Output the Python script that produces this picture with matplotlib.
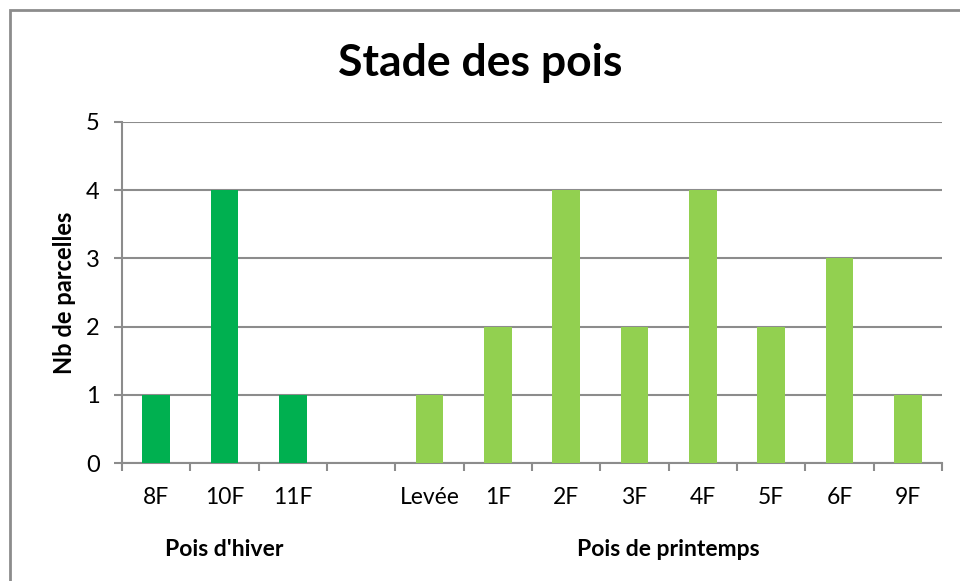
import numpy as np
import matplotlib.pyplot as plt
from matplotlib.patches import Rectangle
from matplotlib.transforms import blended_transform_factory

plt.rcParams['font.family'] = ['Lato', 'DejaVu Sans']

# données
categories = ['8F', '10F', '11F', '', 'Levée', '1F', '2F', '3F', '4F', '5F', '6F', '9F']
valeurs = [1, 4, 1, 0, 1, 2, 4, 2, 4, 2, 3, 1]
groupe = ['hiver', 'hiver', 'hiver', None, 'printemps', 'printemps', 'printemps',
          'printemps', 'printemps', 'printemps', 'printemps', 'printemps']
groupes = ["Pois d'hiver", 'Pois de printemps']
couleurs = {'hiver': '#00B050', 'printemps': '#92D050', None: 'white'}

gris = '#8c8c8c'

fig = plt.figure(figsize=(9.6, 5.81), dpi=100)
fig.patches.append(Rectangle((10 / 960, -0.1), 1.2, 1 - 10 / 581 + 0.1,
                             transform=fig.transFigure, fill=False,
                             edgecolor=gris, linewidth=2))

ax = fig.add_axes([122 / 960, 118 / 581, 820 / 960, 341 / 581])
x = np.arange(len(categories))
ax.bar(x, valeurs, width=0.405, color=[couleurs[g] for g in groupe], zorder=3)

ax.set_xlim(-0.5, len(categories) - 0.5)
ax.set_ylim(0, 5)
ax.set_yticks(range(6))
ax.yaxis.grid(True, color=gris, linewidth=1.5, zorder=0)
ax.tick_params(axis='y', length=6, width=1.5, color=gris, labelsize=17, pad=10)

ax.set_xticks(x)
ax.set_xticklabels(categories, fontsize=16.5)
ax.set_xticks(np.arange(-0.5, len(categories)), minor=True)
ax.tick_params(axis='x', which='major', length=0, pad=17)
ax.tick_params(axis='x', which='minor', length=6, width=1.5, color=gris)

for side in ['top', 'right']:
    ax.spines[side].set_visible(False)
for side in ['left', 'bottom']:
    ax.spines[side].set_color(gris)
    ax.spines[side].set_linewidth(1.5)

ax.set_ylabel('Nb de parcelles', fontsize=17, fontweight='bold', labelpad=7)
fig.text(0.5, 1 - 63 / 581, 'Stade des pois', ha='center', va='center',
         fontsize=32, fontweight='bold')

trans = blended_transform_factory(ax.transData, fig.transFigure)
ax.text(1, 1 - 549 / 581, groupes[0], transform=trans, ha='center', va='center',
        fontsize=16.5, fontweight='bold')
ax.text(7.5, 1 - 549 / 581, groupes[1], transform=trans, ha='center', va='center',
        fontsize=16.5, fontweight='bold')

fig.savefig('out.png', dpi=100)
